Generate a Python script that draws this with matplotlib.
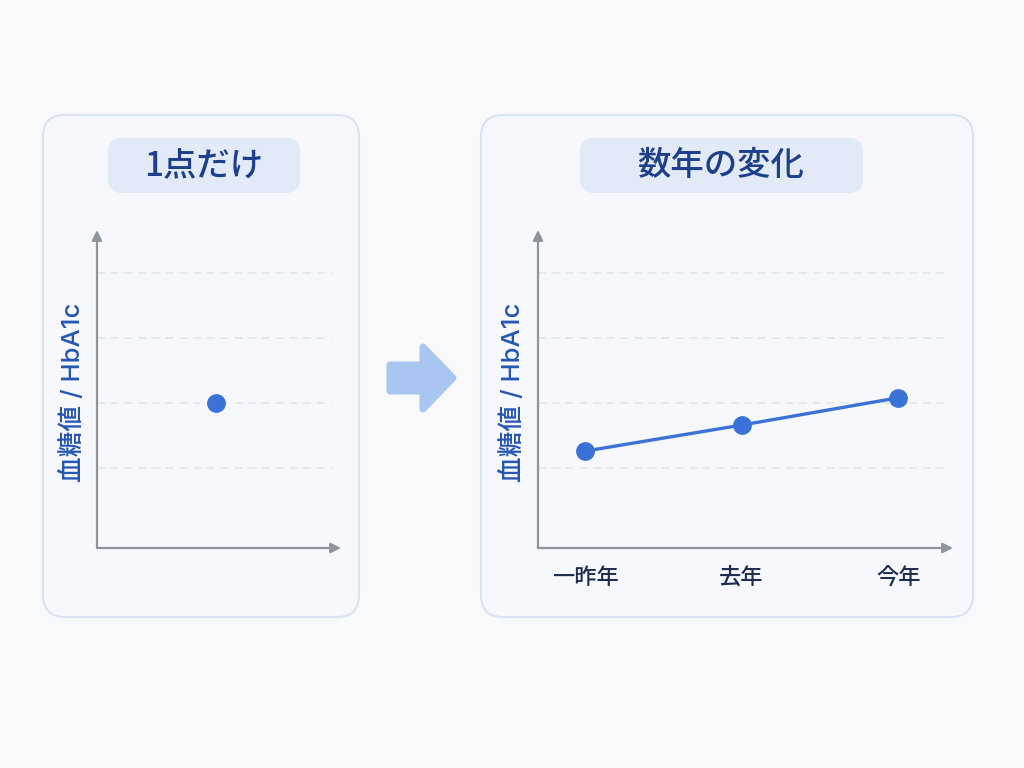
import matplotlib
matplotlib.use("Agg")
import matplotlib.pyplot as plt
from matplotlib.patches import FancyBboxPatch, Polygon

plt.rcParams['font.family'] = ['Noto Sans CJK JP', 'DejaVu Sans']

# ---- data ----
left_title = "1点だけ"
right_title = "数年の変化"
y_label = "血糖値 / HbA1c"
single_x = [0.486]
single_y = [2.0]
years = ["一昨年", "去年", "今年"]
trend_y = [1.26, 1.66, 2.08]
grid_levels = [1, 2, 3, 4]

# ---- style ----
BG = "#f8f9fb"
CARD = "#f6f8fd"
CARD_EDGE = "#d9e3f4"
PILL = "#e2eaf7"
TITLE_C = "#1d3f8c"
LABEL_C = "#2456b3"
TICK_C = "#1f2d52"
AX_C = "#8e949c"
GRID_C = "#dfe4ec"
LINE_C = "#3a72d8"
ARROW_C = "#a8c6f1"

W, H = 1024, 768
fig = plt.figure(figsize=(W / 100, H / 100), dpi=100, facecolor=BG)
bg = fig.add_axes([0, 0, 1, 1])
bg.set_xlim(0, W)
bg.set_ylim(H, 0)
bg.axis("off")
bg.set_facecolor(BG)


def rbox(x0, y0, x1, y1, r, fc, ec=None, lw=0, z=1):
    p = FancyBboxPatch((x0 + r, y0 + r), (x1 - x0) - 2 * r, (y1 - y0) - 2 * r,
                       boxstyle=f"round,pad={r}", fc=fc, ec=ec if ec else fc,
                       lw=lw, zorder=z)
    bg.add_patch(p)


# cards
rbox(43, 115, 359, 617, 22, CARD, CARD_EDGE, 1.5)
rbox(481, 115, 973, 617, 22, CARD, CARD_EDGE, 1.5)
# title pills
rbox(108, 138, 300, 193, 14, PILL, z=2)
rbox(580, 138, 863, 193, 14, PILL, z=2)
bg.text(204, 166, left_title, ha="center", va="center", fontsize=24,
        color=TITLE_C, fontweight="medium", zorder=3)
bg.text(721, 166, right_title, ha="center", va="center", fontsize=24,
        color=TITLE_C, fontweight="medium", zorder=3)

# arrow between panels
arrow_pts = [(390, 365), (423, 365), (423, 347), (453, 378), (423, 409),
             (423, 391), (390, 391)]
bg.add_patch(Polygon(arrow_pts, closed=True, fc=ARROW_C, ec=ARROW_C, lw=5,
                     joinstyle="round", zorder=2))

# y labels
lab_family = ['Inter', 'Noto Sans CJK JP', 'DejaVu Sans']
bg.text(73, 392, y_label, rotation=90, ha="center", va="center",
        fontsize=18.5, color=LABEL_C, family=lab_family, fontweight="medium", zorder=3)
bg.text(513, 392, y_label, rotation=90, ha="center", va="center",
        fontsize=18.5, color=LABEL_C, family=lab_family, fontweight="medium", zorder=3)


def px_axes(x0, x1, y_top, y_bot):
    return fig.add_axes([x0 / W, 1 - y_bot / H, (x1 - x0) / W, (y_bot - y_top) / H])


def style_axes(ax, grid_frac):
    ax.patch.set_alpha(0)
    for s in ax.spines.values():
        s.set_visible(False)
    ax.set_yticks([])
    for g in grid_levels:
        ax.axhline(g, xmin=0, xmax=grid_frac, color=GRID_C, lw=1.1,
                   ls=(0, (5, 4)), zorder=1)
    ax.annotate("", xy=(1, 0), xytext=(0, 0), xycoords="axes fraction",
                arrowprops=dict(arrowstyle="-|>,head_length=0.6,head_width=0.3",
                                color=AX_C, lw=1.6, shrinkA=0, shrinkB=0))
    ax.annotate("", xy=(0, 1), xytext=(0, 0), xycoords="axes fraction",
                arrowprops=dict(arrowstyle="-|>,head_length=0.6,head_width=0.3",
                                color=AX_C, lw=1.6, shrinkA=0, shrinkB=0))


YLIM = (-0.23, 4.66)

# left chart
axL = px_axes(97, 341, 230, 548)
axL.set_xlim(0, 1)
axL.set_ylim(*YLIM)
style_axes(axL, (332 - 97) / (341 - 97))
axL.set_xticks([])
axL.plot(single_x, single_y, "o", color=LINE_C, ms=12.5, zorder=4)

# right chart
axR = px_axes(538, 953, 230, 548)
axR.set_xlim(-0.30, 2.35)
axR.set_ylim(*YLIM)
style_axes(axR, (945 - 538) / (953 - 538))
axR.plot(range(len(years)), trend_y, "-o", color=LINE_C, lw=2.4, ms=12.5, zorder=4)
axR.set_xticks(range(len(years)))
axR.set_xticklabels(years, fontsize=16, color=TICK_C, fontweight="medium")
axR.tick_params(axis="x", length=0, pad=13)

fig.savefig("out.png", dpi=100, facecolor=BG)
